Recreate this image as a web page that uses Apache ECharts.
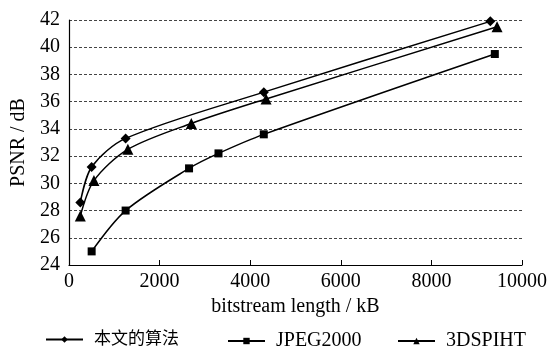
<!doctype html>
<html lang="zh">
<head>
    <meta charset="utf-8">
    <title>PSNR vs bitstream length</title>
    <script src="https://cdn.jsdelivr.net/npm/echarts@6/dist/echarts.min.js"></script>
    <style>
        html, body { margin: 0; padding: 0; background: #fff; }
    </style>
</head>
<body>
    <div id="mychart" style="width:551px; height:346px;"></div>

    <script type="text/javascript">
        // data: [bitstream length kB, PSNR dB]
        var seriesNames = ['本文的算法', 'JPEG2000', '3DSPIHT'];
        var oursData = [[250, 28.6], [500, 31.2], [1250, 33.3], [4300, 36.7], [9300, 41.9]];
        var jpegData = [[500, 25.0], [1250, 28.0], [2650, 31.1], [3300, 32.2], [4300, 33.6], [9400, 39.5]];
        var spihtData = [[250, 27.6], [550, 30.2], [1300, 32.5], [2700, 34.4], [4350, 36.2], [9450, 41.5]];
        var xTicks = [0, 2000, 4000, 6000, 8000, 10000];
        var yTicks = [24, 26, 28, 30, 32, 34, 36, 38, 40, 42];

        var serifFont = '"Liberation Serif", "Times New Roman", "Noto Sans CJK SC", serif';

        function makeSeries(name, data, symbol, size) {
            return {
                name: name,
                type: 'line',
                data: data,
                smooth: 0.3,
                symbol: symbol,
                symbolSize: size,
                showAllSymbol: true,
                lineStyle: { color: '#000', width: 1.5 },
                itemStyle: { color: '#000' }
            };
        }

        // one legend per item so each can sit where the figure has it
        function makeLegend(name, left, fontSize) {
            return {
                data: [name],
                left: left,
                top: 326,
                itemWidth: 37,
                itemHeight: 8,
                textStyle: { fontFamily: serifFont, fontSize: fontSize, color: '#000', padding: [0, 0, 0, 6] }
            };
        }

        var myChart = echarts.init(document.getElementById('mychart'));
        var option = {
            animation: false,
            textStyle: { fontFamily: serifFont, color: '#000' },
            grid: { left: 69, right: 29, top: 20, bottom: 81 },
            legend: [
                makeLegend(seriesNames[0], 40, 17),
                makeLegend(seriesNames[1], 222, 20),
                makeLegend(seriesNames[2], 392, 20)
            ],
            xAxis: {
                type: 'value',
                min: xTicks[0],
                max: xTicks[xTicks.length - 1],
                interval: 2000,
                name: 'bitstream length / kB',
                nameLocation: 'middle',
                nameGap: 31,
                nameTextStyle: { fontSize: 20, color: '#000' },
                axisLine: { lineStyle: { color: '#000', width: 1.2 } },
                axisTick: { inside: true, length: 5, lineStyle: { color: '#000' } },
                axisLabel: { fontSize: 20, color: '#000', margin: 7, formatter: function (v) { return String(v); } },
                splitLine: { show: false }
            },
            yAxis: {
                type: 'value',
                min: yTicks[0],
                max: yTicks[yTicks.length - 1],
                interval: 2,
                name: 'PSNR / dB',
                nameLocation: 'middle',
                nameGap: 40,
                nameTextStyle: { fontSize: 20, color: '#000' },
                axisLine: { show: true, lineStyle: { color: '#000', width: 1.2 } },
                axisTick: { show: false },
                axisLabel: { fontSize: 20, color: '#000', margin: 9 },
                splitLine: { show: true, lineStyle: { color: '#444', width: 1, type: [3, 2] } }
            },
            series: [
                makeSeries(seriesNames[0], oursData, 'diamond', 10),
                makeSeries(seriesNames[1], jpegData, 'rect', 8),
                makeSeries(seriesNames[2], spihtData, 'triangle', 11)
            ]
        };
        myChart.setOption(option);
    </script>
</body>
</html>
